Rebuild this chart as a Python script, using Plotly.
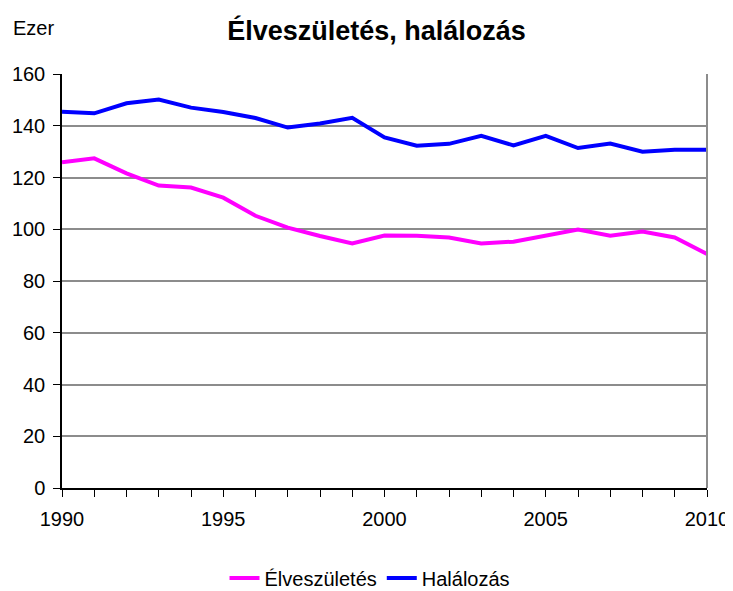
import plotly.graph_objects as go

# Data (thousands)
years = list(range(1990, 2011))
births = [125.9, 127.4, 121.6, 116.9, 116.1, 112.2, 105.2, 100.6, 97.4, 94.5,
          97.6, 97.5, 96.8, 94.5, 95.2, 97.6, 99.9, 97.5, 99.1, 96.8, 90.4]
deaths = [145.4, 144.8, 148.7, 150.1, 147.0, 145.3, 143.0, 139.3, 140.9, 143.1,
          135.5, 132.3, 133.0, 136.1, 132.4, 136.1, 131.4, 133.1, 130.0, 130.7, 130.7]
y_ticks = [0, 20, 40, 60, 80, 100, 120, 140, 160]
x_ticks = [1990, 1995, 2000, 2005, 2010]

FONT = "Liberation Sans, Arial, sans-serif"
GRID = "#8c8c8c"
# page body adds an 8px margin, so the figure is sized a bit smaller
W, H = 725, 583

fig = go.Figure()
fig.add_trace(go.Scatter(x=years, y=births, mode="lines", name="Élveszületés",
                         line=dict(color="#ff00ff", width=4)))
fig.add_trace(go.Scatter(x=years, y=deaths, mode="lines", name="Halálozás",
                         line=dict(color="#0000ff", width=4)))

fig.update_layout(
    width=W, height=H,
    margin=dict(l=54, r=26, t=66, b=103),
    plot_bgcolor="white", paper_bgcolor="white",
    font=dict(family=FONT, size=20, color="black"),
    title=dict(text="<b>Élveszületés, halálozás</b>", x=368.5 / W, xanchor="center",
               y=1 - 23 / H, yanchor="middle", font=dict(size=27)),
    legend=dict(orientation="h", xref="container", yref="container",
                x=362 / W, xanchor="center", y=13 / H, yanchor="middle",
                font=dict(size=20), tracegroupgap=0),
    annotations=[dict(text="Ezer", xref="paper", yref="paper", x=(3 - 54) / 645,
                      y=(480 - 20) / 414, xanchor="left", yanchor="middle",
                      showarrow=False, font=dict(size=20))],
    shapes=[dict(type="line", xref="x domain", yref="y domain", x0=1, x1=1, y0=0, y1=1,
                 line=dict(color=GRID, width=2))],
)

fig.update_xaxes(
    range=[1990, 2010], tickvals=x_ticks, showgrid=False, zeroline=False,
    showline=True, linecolor="black", linewidth=1.5, automargin=False,
    ticks="outside", ticklen=7, tickcolor="black", ticklabelstandoff=5,
    minor=dict(dtick=1, ticks="outside", ticklen=7, tickcolor="black", showgrid=False),
)
fig.update_yaxes(
    range=[0, 160], tickvals=y_ticks, showgrid=True, gridcolor=GRID, gridwidth=2,
    zeroline=False, showline=True, linecolor="black", linewidth=1.5, automargin=False,
    ticks="outside", ticklen=7, tickcolor="black", ticklabelstandoff=4,
)

fig.write_html("out.html")
